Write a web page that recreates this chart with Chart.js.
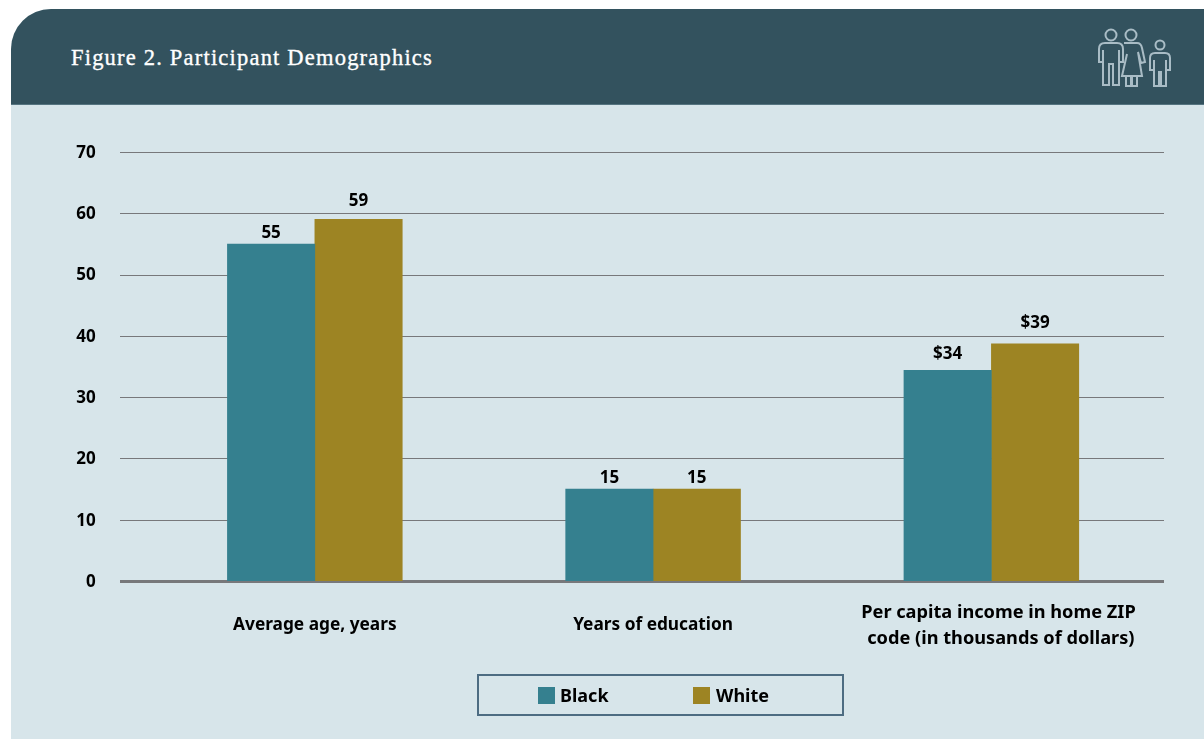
<!DOCTYPE html>
<html>
<head>
<meta charset="utf-8">
<title>Figure 2. Participant Demographics</title>
<script src="https://cdn.jsdelivr.net/npm/chart.js@4/dist/chart.umd.min.js"></script>
<style>
  html, body { margin: 0; padding: 0; background: #fff; }
  body { position: relative; width: 1204px; height: 748px; overflow: hidden; }
  #panel { position: absolute; left: 11px; top: 9px; width: 1193px; height: 730px; background: #d7e5ea; border-top-left-radius: 40px; overflow: hidden; }
  #header { position: absolute; left: 0; top: 0; width: 100%; height: 96px; background: #33525e; border-bottom: 1px solid #557480; box-sizing: border-box; }
  #title { position: absolute; left: 60px; top: 36px; color: #fff; font: 22.5px "Liberation Serif", serif; letter-spacing: 1.2px; -webkit-text-stroke: 0.35px #fff; }
  #icon { position: absolute; left: 0; top: 0; }
  canvas { position: absolute; left: 0; top: 0; }
  #legend { position: absolute; left: 477px; top: 674px; width: 367px; height: 42px; border: 2px solid #4d6c82; box-sizing: border-box; font: bold 18px "Noto Sans", sans-serif; color: #000; }
  #legend span { position: absolute; top: 7px; line-height: 24px; }
  #legend i { position: absolute; top: 11px; width: 17px; height: 17px; }
</style>
</head>
<body>
<div id="panel">
  <div id="header"><div id="title">Figure 2. Participant Demographics</div></div>
</div>
<svg id="icon" width="1204" height="110" fill="none" stroke="#a9bcc5" stroke-width="2">
  <circle cx="1111" cy="35" r="5.5"/>
  <circle cx="1131" cy="35" r="5.5"/>
  <circle cx="1160" cy="45" r="4.5"/>
  <path d="M1105 43H1117Q1123 43 1123 49V62H1119V50M1119 60V85H1113V64H1109V85H1103V50M1103 60V62H1099V49Q1099 43 1105 43"/>
  <path d="M1124 43H1137Q1141 43 1142 48L1145 62L1141 63L1138 52M1127 54L1122 76H1142L1138 52M1126 76V86H1131V76M1132 76V86H1137V76"/>
  <path d="M1155 53H1165Q1170 53 1170 58V70H1166V60M1166 68V86H1161V72H1159V86H1154V60M1154 68V70H1150V58Q1150 53 1155 53"/>
</svg>
<canvas id="chart" width="1204" height="748"></canvas>
<div id="legend">
  <i style="left:59px;background:#35808f"></i><span id="legendA" style="left:81px"></span>
  <i style="left:214px;background:#9d8423"></i><span id="legendB" style="left:237px"></span>
</div>
<script>
const categories = ["Average age, years", "Years of education", ["   Per capita income in home ZIP", "    code (in thousands of dollars)"]]
const seriesNames = ["Black", "White"]
const blackValues = [55, 15, 34.4]
const whiteValues = [59, 15, 38.7]
const blackLabels = ["55", "15", "$34"]
const whiteLabels = ["59", "15", "$39"]
const tickValues = [0, 10, 20, 30, 40, 50, 60, 70]

// how far each value label floats above its bar (the source lifts some clear of a gridline)
const blackLift = [2, 2, 8]
const whiteLift = [10, 2, 12]

const sansBold = '"Noto Sans", sans-serif'

document.getElementById("legendA").textContent = seriesNames[0]
document.getElementById("legendB").textContent = seriesNames[1]

// gridlines run wider than the bars' plot area, so draw them from the y scale
const wideGrid = {
  id: "wideGrid",
  beforeDatasetsDraw(chart) {
    const { ctx, scales: { y } } = chart
    ctx.save()
    tickValues.forEach(v => {
      const py = Math.round(y.getPixelForValue(v)) + 0.5
      ctx.beginPath()
      ctx.strokeStyle = "#77787b"
      ctx.lineWidth = v === 0 ? 3 : 1
      ctx.moveTo(120, py)
      ctx.lineTo(1164, py)
      ctx.stroke()
    })
    ctx.restore()
  }
}

const valueLabels = {
  id: "valueLabels",
  afterDatasetsDraw(chart) {
    const { ctx } = chart
    ctx.save()
    ctx.font = "bold 17px " + sansBold
    ctx.fillStyle = "#000"
    ctx.textAlign = "center"
    ctx.textBaseline = "bottom"
    chart.data.datasets.forEach((ds, i) => {
      const texts = i === 0 ? blackLabels : whiteLabels
      const lift = i === 0 ? blackLift : whiteLift
      chart.getDatasetMeta(i).data.forEach((bar, j) => {
        ctx.fillText(texts[j], bar.x, bar.y - lift[j])
      })
    })
    ctx.restore()
  }
}

new Chart(document.getElementById("chart"), {
  type: "bar",
  data: {
    labels: categories,
    datasets: [
      { label: seriesNames[0], data: blackValues, backgroundColor: "#35808f" },
      { label: seriesNames[1], data: whiteValues, backgroundColor: "#9d8423" }
    ]
  },
  options: {
    responsive: false,
    animation: false,
    layout: { padding: { top: 152, right: 43.5, bottom: 0, left: 0 } },
    datasets: { bar: { categoryPercentage: 0.517, barPercentage: 1, inflateAmount: 0.3 } },
    plugins: {
      legend: { display: false },
      tooltip: { enabled: false }
    },
    scales: {
      x: {
        afterFit: s => { s.height = 167 },
        grid: { display: false },
        border: { display: false },
        ticks: {
          color: "#000",
          maxRotation: 0,
          autoSkip: false,
          crossAlign: "center",
          padding: 23.5,
          font: ctx => ({
            family: sansBold,
            size: ctx.index === 2 ? 18.2 : 17.3,
            weight: "bold",
            lineHeight: ctx.index === 2 ? 1.42 : 1.5
          })
        }
      },
      y: {
        min: 0,
        max: 70,
        afterFit: s => { s.width = 145.7 },
        afterBuildTicks: s => { s.ticks = tickValues.map(value => ({ value })) },
        grid: { display: false, drawTicks: false },
        border: { display: false },
        ticks: {
          color: "#000",
          padding: 50,
          labelOffset: 1,
          font: { family: sansBold, size: 17, weight: "bold" }
        }
      }
    }
  },
  plugins: [wideGrid, valueLabels]
})
</script>
</body>
</html>
